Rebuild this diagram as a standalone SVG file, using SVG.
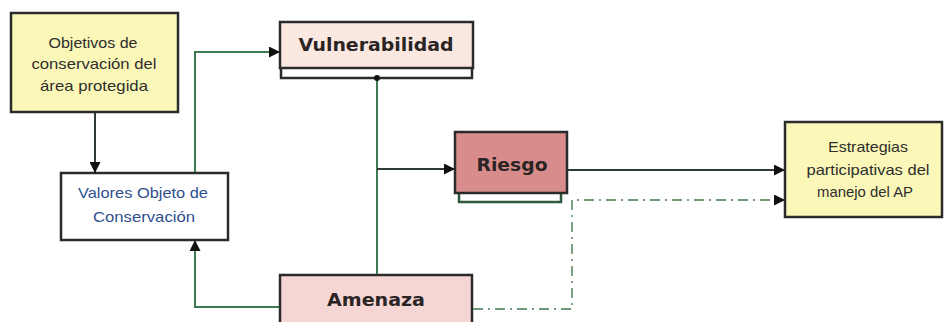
<svg xmlns="http://www.w3.org/2000/svg" width="951" height="322" viewBox="0 0 951 322">
<style>
.box{stroke:#2b2b2b;stroke-width:2.5}
.small{font-family:"Liberation Sans",Arial,sans-serif;font-size:15px;fill:#2e2e2e;text-anchor:middle}
.big{font-family:"DejaVu Sans",sans-serif;font-weight:bold;font-size:18px;fill:#2a2424;text-anchor:middle}
.dk{fill:none;stroke:#2e3a32;stroke-width:2}
.gr{fill:none;stroke:#3e7a50;stroke-width:2}
.dd{fill:none;stroke:#6f9a78;stroke-width:1.8;stroke-dasharray:10,5,2,5}
</style>
<defs>
<marker id="ah" markerWidth="11" markerHeight="11" refX="10" refY="5.5" orient="auto" markerUnits="userSpaceOnUse">
<path d="M0,0 L11,5.5 L0,11 z" fill="#111"/>
</marker>
<marker id="dot" markerWidth="8" markerHeight="8" refX="4" refY="4" markerUnits="userSpaceOnUse">
<circle cx="4" cy="4" r="3" fill="#111"/>
</marker>
</defs>
<rect width="951" height="322" fill="#fff"/>
<g id="objetivos">
<rect class="box" x="11" y="13" width="167" height="99" fill="#fbf7b8"/>
<text class="small" x="93" y="48" textLength="89" lengthAdjust="spacingAndGlyphs">Objetivos de</text>
<text class="small" x="94" y="69" textLength="125" lengthAdjust="spacingAndGlyphs">conservación del</text>
<text class="small" x="94" y="91" textLength="108" lengthAdjust="spacingAndGlyphs">área protegida</text>
</g>
<g id="valores">
<rect class="box" x="61" y="173" width="167" height="67" fill="#fff"/>
<text class="small" x="143" y="198" textLength="130" lengthAdjust="spacingAndGlyphs" style="fill:#2f4f8f">Valores Objeto de</text>
<text class="small" x="144" y="222" textLength="102" lengthAdjust="spacingAndGlyphs" style="fill:#2f4f8f">Conservación</text>
</g>
<g id="vulnerabilidad">
<rect class="box" x="281" y="67" width="191" height="11" fill="#fff"/>
<rect class="box" x="280" y="22" width="193" height="46" fill="#fbe8e0"/>
<text class="big" x="376" y="51" textLength="155" lengthAdjust="spacingAndGlyphs">Vulnerabilidad</text>
</g>
<g id="riesgo">
<rect class="box" x="459" y="192" width="102" height="10" fill="#fff" style="stroke:#2f5a40"/>
<rect class="box" x="455" y="132" width="112" height="61" fill="#d98c8c"/>
<text class="big" x="512" y="171" textLength="71" lengthAdjust="spacingAndGlyphs">Riesgo</text>
</g>
<g id="amenaza">
<rect class="box" x="280" y="275" width="192" height="52" fill="#f5d6d4"/>
<text class="big" x="376" y="306" textLength="98" lengthAdjust="spacingAndGlyphs">Amenaza</text>
</g>
<g id="estrategias">
<rect class="box" x="785" y="122" width="157" height="95" fill="#fbf7b8"/>
<text class="small" x="868" y="152" textLength="80" lengthAdjust="spacingAndGlyphs">Estrategias</text>
<text class="small" x="868" y="175" textLength="123" lengthAdjust="spacingAndGlyphs">participativas del</text>
<text class="small" x="865" y="197" textLength="96" lengthAdjust="spacingAndGlyphs">manejo del AP</text>
</g>
<g id="connectors">
<path class="dk" d="M95,113 V172" marker-end="url(#ah)"/>
<path class="gr" d="M195,172 V52 H279" marker-end="url(#ah)"/>
<path class="gr" d="M377,78 V274" marker-start="url(#dot)"/>
<path class="dk" d="M377,169 H454" marker-end="url(#ah)"/>
<path class="gr" d="M279,307 H195 V241" marker-end="url(#ah)"/>
<path class="dk" d="M568,170 H784" marker-end="url(#ah)"/>
<path class="dd" d="M473,309 H572 V200 H784" marker-end="url(#ah)"/>
</g>
</svg>
